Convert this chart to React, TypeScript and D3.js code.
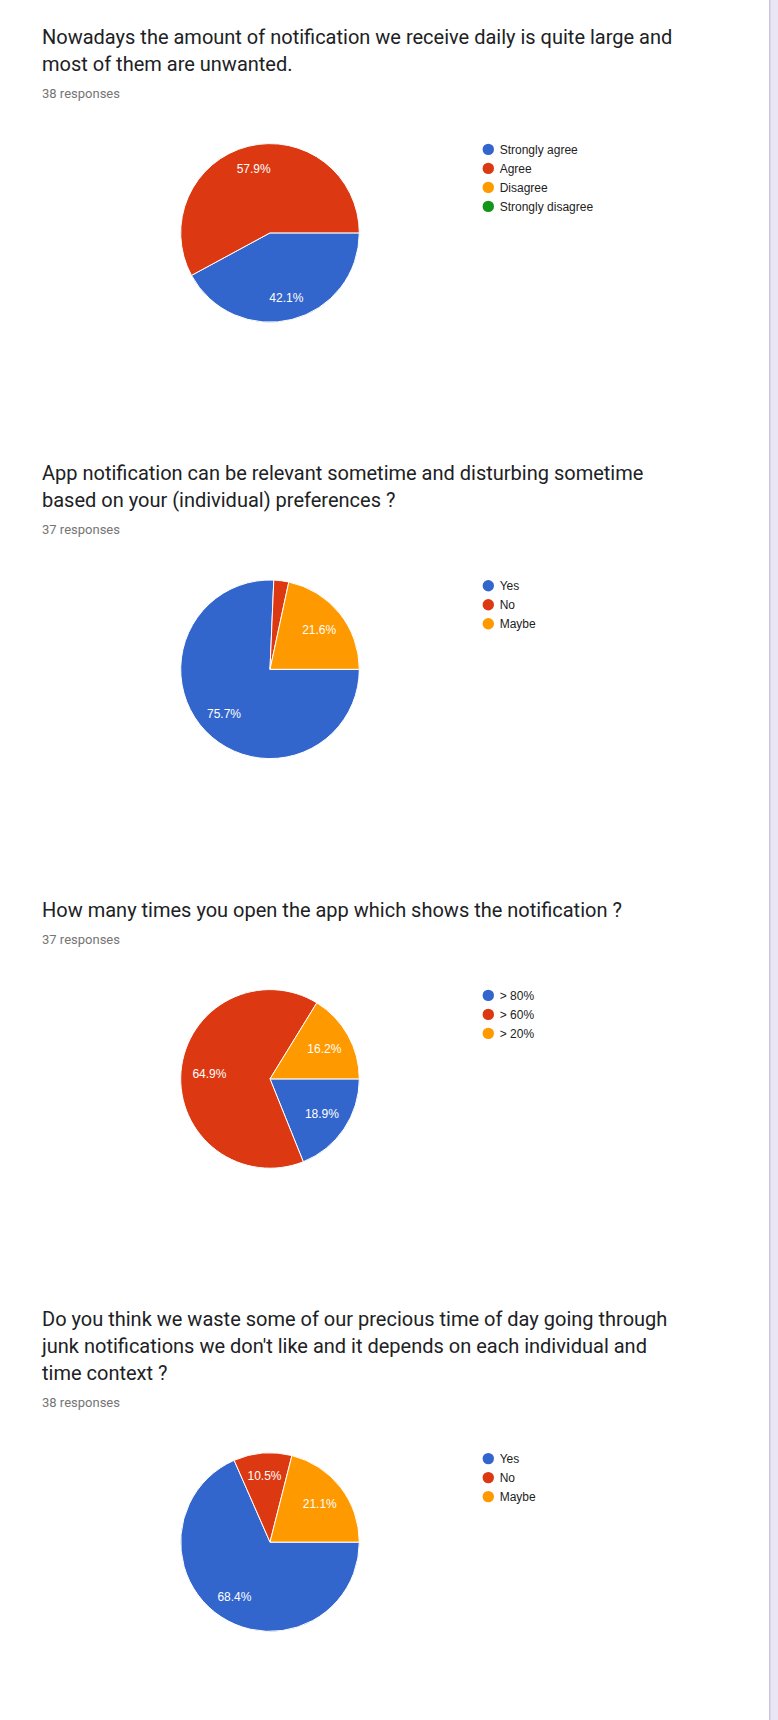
import React from "react";
import * as d3 from "d3";

// survey questions, one block each
const q1Title = [
  "Nowadays the amount of notification we receive daily is quite large and",
  "most of them are unwanted.",
];
const q1Labels = ["Strongly agree", "Agree", "Disagree", "Strongly disagree"];
const q1Counts = [16, 22, 0, 0];

const q2Title = [
  "App notification can be relevant sometime and disturbing sometime",
  "based on your (individual) preferences ?",
];
const q2Labels = ["Yes", "No", "Maybe"];
const q2Counts = [28, 1, 8];

const q3Title = ["How many times you open the app which shows the notification ?"];
const q3Labels = ["> 80%", "> 60%", "> 20%"];
const q3Counts = [7, 24, 6];

const q4Title = [
  "Do you think we waste some of our precious time of day going through",
  "junk notifications we don't like and it depends on each individual and",
  "time context ?",
];
const q4Labels = ["Yes", "No", "Maybe"];
const q4Counts = [26, 4, 8];

const questions = [
  { title: q1Title, labels: q1Labels, counts: q1Counts },
  { title: q2Title, labels: q2Labels, counts: q2Counts },
  { title: q3Title, labels: q3Labels, counts: q3Counts },
  { title: q4Title, labels: q4Labels, counts: q4Counts },
];

const colors = ["#3366cc", "#dc3912", "#ff9900", "#109618"];

const W = 778, H = 1720;
const textX = 42;
const lineH = 26.8;
const pieCx = 270;
const radius = 89.3;

const fmt = d3.format(".1%");

function PieBlock({ q, top }: { q: any; top: number }) {
  const total = d3.sum(q.counts as number[]);
  const respY = top + q.title.length * lineH;
  const cy = respY + 135.3;

  const pie = d3
    .pie<number>()
    .sort(null)
    .startAngle(Math.PI / 2)
    .endAngle(Math.PI / 2 + 2 * Math.PI);
  const arcs = pie(q.counts);
  const arc = d3.arc<d3.PieArcDatum<number>>().innerRadius(0).outerRadius(radius);

  const color = d3.scaleOrdinal<string, string>().domain(q.labels).range(colors);

  return (
    <g>
      {q.title.map((t: string, i: number) => (
        <text
          key={i}
          x={textX}
          y={top + i * lineH}
          fontFamily="Roboto"
          fontSize={20}
          fill="#202124"
        >
          {t}
        </text>
      ))}
      <text x={textX} y={respY} fontFamily="Roboto" fontSize={13} fill="#757575">
        {total} responses
      </text>

      <g transform={`translate(${pieCx},${cy})`}>
        {arcs
          .filter(a => a.value > 0)
          .map((a, i) => (
            <path
              key={i}
              d={arc(a) || ""}
              fill={color(q.labels[a.index])}
              stroke="#fff"
              strokeWidth={1}
            />
          ))}
        {arcs
          .filter(a => a.value / total >= 0.05)
          .map((a, i) => {
            const mid = (a.startAngle + a.endAngle) / 2;
            const c = Math.cos(mid);
            const d = radius * (0.68 + 0.07 * c * c);
            return (
              <text
                key={i}
                x={Math.sin(mid) * d}
                y={-Math.cos(mid) * d}
                dy="0.35em"
                textAnchor="middle"
                fontFamily="'Liberation Sans', Arial"
                fontSize={12}
                fill="#fff"
              >
                {fmt(a.value / total)}
              </text>
            );
          })}
      </g>

      <g transform={`translate(488.3,${cy - 83.5})`}>
        {q.labels.map((l: string, i: number) => (
          <g key={l} transform={`translate(0,${i * 19})`}>
            <circle r={5.7} fill={color(l)} />
            <text
              x={11.4}
              dy="0.35em"
              fontFamily="'Liberation Sans', Arial"
              fontSize={12}
              fill="#222"
            >
              {l}
            </text>
          </g>
        ))}
      </g>
    </g>
  );
}

export default function App() {
  // stack the blocks: next title sits 247.5px below previous pie centre
  const tops: number[] = [];
  let t = 44;
  questions.forEach(q => {
    tops.push(t);
    const cy = t + q.title.length * lineH + 135.3;
    t = cy + 247.5;
  });

  return (
    <div style={{ position: "absolute", left: 0, top: 0 }}>
      <svg width={W} height={H} style={{ display: "block", background: "#fff" }}>
        {questions.map((q, i) => (
          <PieBlock key={i} q={q} top={tops[i]} />
        ))}
        <rect x={769} y={0} width={9} height={H} fill="#ebe6f5" />
        <rect x={769} y={0} width={1.5} height={H} fill="#cdc6dc" />
      </svg>
    </div>
  );
}
